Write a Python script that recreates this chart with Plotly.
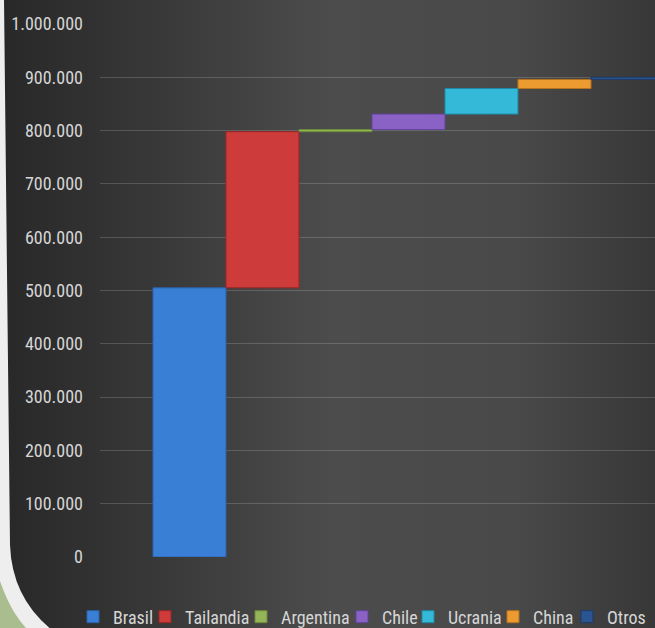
import plotly.graph_objects as go

# ---- data ----
countries = ["Brasil", "Tailandia", "Argentina", "Chile", "Ucrania", "China", "Otros"]
values = [505000, 293000, 4000, 29000, 48000, 17000, 4000]
colors = ["#3a7fd6", "#cd3b3a", "#93b457", "#8a62c6", "#34b9d8", "#ec9b30", "#2b5592"]
line_colors = ["#2a62ab", "#9c2624", "#6d8a3a", "#62449a", "#1f8aa6", "#b8731c", "#1c3b6b"]
y_ticks = [0, 100000, 200000, 300000, 400000, 500000, 600000, 700000, 800000, 900000, 1000000]
legend_text_px = [113, 185, 281, 382, 448, 533, 607]

W, H = 655, 628
L, R, T, B = 100, 0, 24, 71
PW = W - L - R
PH = H - T - B


def px_x(x):
    return (x - L) / PW


def px_y(y):
    return (H - B - y) / PH


fig = go.Figure()

base = 0
for i, (c, v) in enumerate(zip(countries, values)):
    fig.add_trace(go.Bar(
        x=[c], y=[v], base=[base], name=c, width=1.0,
        marker=dict(color=colors[i], line=dict(color=line_colors[i], width=1)),
        legend="legend" if i == 0 else f"legend{i + 1}",
        showlegend=True,
    ))
    base += v

# ---- background: horizontal gradient strips ----
stops = [(0, (40, 40, 40)), (100, (50, 50, 50)), (330, (76, 76, 76)),
         (520, (73, 73, 73)), (655, (56, 56, 56))]


def grad(x):
    for (x0, c0), (x1, c1) in zip(stops[:-1], stops[1:]):
        if x0 <= x <= x1:
            t = (x - x0) / (x1 - x0)
            return tuple(int(round(a + (b - a) * t)) for a, b in zip(c0, c1))
    return stops[-1][1]


shapes = []
step = 8
for x0 in range(0, W, step):
    x1 = min(x0 + step + 1, W)
    r, g, b = grad(x0 + step / 2)
    shapes.append(dict(type="rect", xref="paper", yref="paper",
                       x0=px_x(x0), x1=px_x(x1), y0=px_y(H + 2), y1=px_y(-2),
                       fillcolor=f"rgb({r},{g},{b})", line=dict(width=0), layer="below"))


def path(points):
    parts = []
    for p in points:
        if p[0] == "Z":
            parts.append("Z")
        elif p[0] == "Q":
            parts.append(f"Q {px_x(p[1]):.5f},{px_y(p[2]):.5f} {px_x(p[3]):.5f},{px_y(p[4]):.5f}")
        else:
            parts.append(f"{p[0]} {px_x(p[1]):.5f},{px_y(p[2]):.5f}")
    return " ".join(parts)


# white border left / bottom-left rounded corner
shapes.append(dict(type="path", xref="paper", yref="paper",
                   path=path([("M", -1, -1), ("L", 4, -1), ("L", 10, 545),
                              ("Q", 12, 598, 52, 630), ("L", -1, 630), ("Z",)]),
                   fillcolor="#eeeeee", line=dict(width=0), layer="below"))
# green slide background in the corner
shapes.append(dict(type="path", xref="paper", yref="paper",
                   path=path([("M", -1, 578), ("Q", 10, 612, 28, 630),
                              ("L", -1, 630), ("Z",)]),
                   fillcolor="#a9bd8e", line=dict(width=0), layer="below"))

font_family = "Liberation Sans Narrow, Roboto Condensed, DejaVu Sans Condensed, sans-serif"

layout = dict(
    width=W, height=H,
    margin=dict(l=L, r=R, t=T, b=B, pad=0, autoexpand=False),
    paper_bgcolor="#3a3a3a",
    plot_bgcolor="rgba(0,0,0,0)",
    separators=",.",
    barmode="overlay",
    bargap=0,
    shapes=shapes,
    xaxis=dict(
        categoryorder="array", categoryarray=countries,
        range=[-1.226, 6.377], showticklabels=False, showgrid=False,
        zeroline=False, showline=False, ticks="",
    ),
    yaxis=dict(
        range=[0, 1000000], tickvals=y_ticks, tickformat=",d",
        showgrid=True, gridcolor="rgba(255,255,255,0.17)", gridwidth=1,
        zeroline=False, showline=False, ticks="",
        ticklabelstandoff=16,
        tickfont=dict(family=font_family, size=18, color="#d6d6d6"),
    ),
)

for i in range(len(countries)):
    key = "legend" if i == 0 else f"legend{i + 1}"
    layout[key] = dict(
        x=px_x(legend_text_px[i] - 40), xanchor="left",
        y=px_y(617), yanchor="middle",
        orientation="h", bgcolor="rgba(0,0,0,0)", borderwidth=0,
        font=dict(family=font_family, size=18, color="#d6d6d6"),
        itemclick=False, itemdoubleclick=False,
    )

fig.update_layout(**layout)
fig.write_html(
    "out.html",
    config={"displayModeBar": False, "staticPlot": True},
    post_script=(
        "document.documentElement.style.margin='0';"
        "document.documentElement.style.overflow='hidden';"
        "document.body.style.margin='0';"
        "document.body.style.overflow='hidden';"
    ),
)
